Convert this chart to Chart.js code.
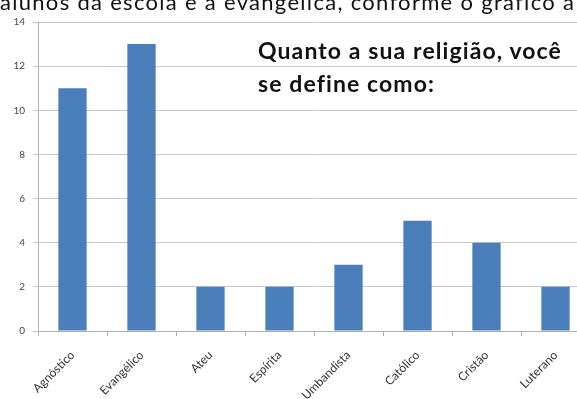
<!DOCTYPE html>
<html>
<head>
<meta charset="utf-8">
<script src="https://cdn.jsdelivr.net/npm/chart.js@4"></script>
<style>
  html, body { margin: 0; padding: 0; background: #fff; overflow: hidden; width: 577px; height: 399px; }
  #wrap { position: absolute; left: 0; top: 0; width: 600px; height: 399px; }
  #topline { position: absolute; left: 0; top: -12px; font-family: Lato, sans-serif; font-size: 22px; letter-spacing: 1.3px; color: #111; white-space: nowrap; }
  #note { position: absolute; left: 258px; top: 34px; font-family: Lato, sans-serif; font-weight: bold; font-size: 23px; letter-spacing: 1.1px; line-height: 33px; color: #111; }
</style>
</head>
<body>
<div id="wrap"><canvas id="religionChart" width="600" height="399"></canvas></div>
<div id="topline">alunos da escola é a evangélica, conforme o gráfico a</div>
<div id="note">Quanto a sua religião, você<br>se define como:</div>
<script>
// dados
const categories = ["Agnóstico", "Evangélico", "Ateu", "Espírita", "Umbandista", "Católico", "Cristão", "Luterano"];
const counts = [11, 13, 2, 2, 3, 5, 4, 2];
const yTicks = [0, 2, 4, 6, 8, 10, 12, 14];

const ctx = document.getElementById('religionChart').getContext('2d');

new Chart(ctx, {
  type: "bar",
  data: {
    labels: categories,
    datasets: [
      {
        data: counts,
        backgroundColor: "#4a7ebb",
        borderWidth: 0,
        barPercentage: 0.82,
        categoryPercentage: 0.5,
      },
    ],
  },
  options: {
    responsive: false,
    animation: false,
    layout: { padding: { top: 22, right: 10, left: 0, bottom: 0 } },
    plugins: {
      legend: { display: false },
      tooltip: { enabled: false },
    },
    scales: {
      x: {
        grid: { drawOnChartArea: false, offset: true, tickLength: 5, color: "#b0b0b0" },
        border: { color: "#b0b0b0" },
        ticks: {
          color: "#333",
          font: { family: "Lato, sans-serif", size: 12 },
          minRotation: 45,
          maxRotation: 45,
          padding: 12,
        },
        afterFit: (scale) => { scale.height = 68; },
      },
      y: {
        min: 0,
        max: 14,
        afterBuildTicks: (scale) => { scale.ticks = yTicks.map(v => ({ value: v })); },
        grid: { color: "#c8c8c8", tickLength: 5 },
        border: { color: "#b0b0b0" },
        ticks: {
          color: "#444",
          font: { family: "Lato, sans-serif", size: 10 },
          padding: 8,
        },
        afterFit: (scale) => { scale.width = 38; },
      },
    },
  },
});
</script>
</body>
</html>
